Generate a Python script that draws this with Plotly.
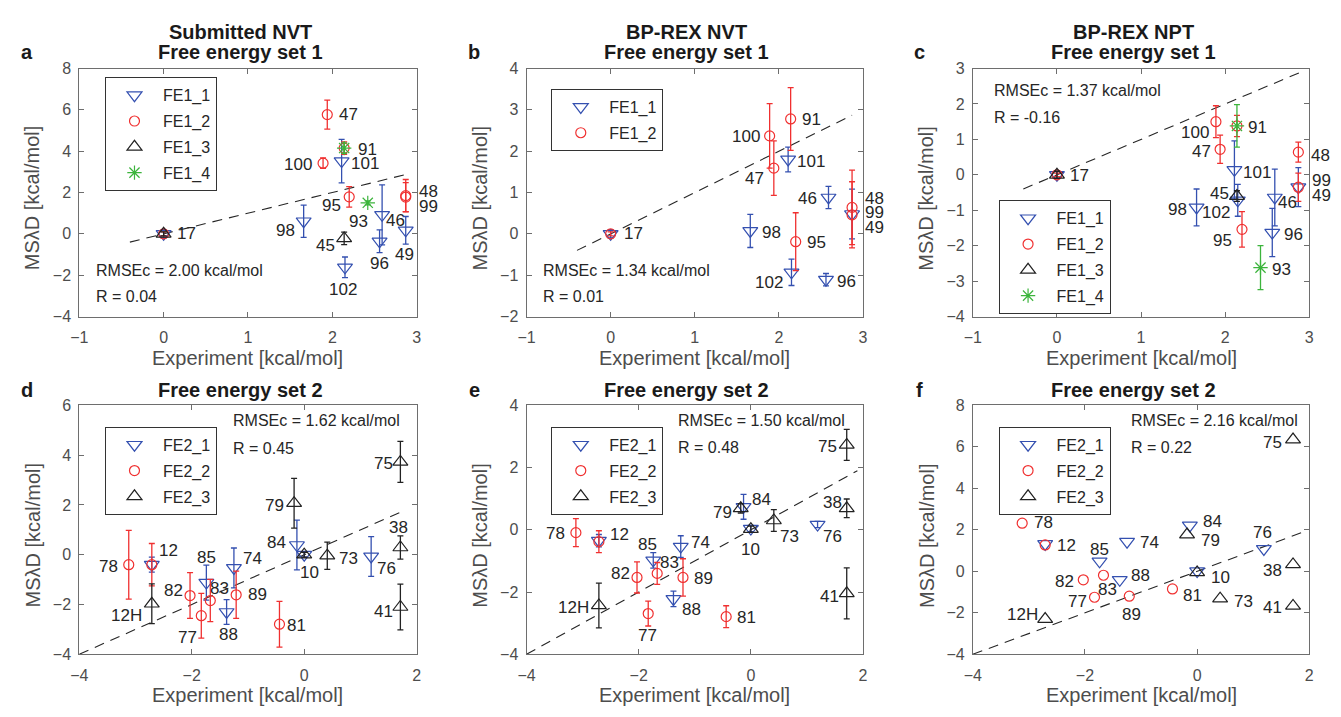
import plotly.graph_objects as go

W, H = 1341, 717

# ---------------- data ----------------
# experimental values (x) per compound
exp_set1 = {"17": 0.0, "98": 1.66, "100": 1.89, "47": 1.94, "101": 2.11, "102": 2.15,
            "45": 2.14, "91": 2.14, "95": 2.20, "93": 2.42, "96": 2.56, "46": 2.59,
            "48": 2.87, "99": 2.87, "49": 2.87}
exp_set2 = {"78": -3.12, "12": -2.71, "12H": -2.71, "82": -2.03, "77": -1.83, "85": -1.74,
            "83": -1.67, "88": -1.38, "74": -1.25, "89": -1.21, "81": -0.44, "79": -0.18,
            "84": -0.13, "10": 0.0, "73": 0.41, "76": 1.19, "75": 1.71, "38": 1.71, "41": 1.71}

# Panel a: Submitted NVT, set 1
a_fe1_1_ids = ["17", "98", "101", "102", "46", "96", "49"]
a_fe1_1_y = [0.0, 0.61, 3.52, -1.62, 0.92, -0.36, 0.17]
a_fe1_1_err = [0.2, 0.78, 1.05, 0.5, 1.45, 0.55, 0.67]
a_fe1_2_ids = ["17", "47", "100", "91", "95", "48", "99"]
a_fe1_2_y = [0.0, 5.77, 3.42, 4.15, 1.79, 1.85, 1.78]
a_fe1_2_err = [0.1, 0.7, 0.25, 0.3, 0.5, 0.78, 0.7]
a_fe1_3_ids = ["17", "45"]
a_fe1_3_y = [0.0, -0.22]
a_fe1_3_err = [0.1, 0.3]
a_fe1_4_ids = ["91", "93"]
a_fe1_4_y = [4.15, 1.5]
a_fe1_4_err = [0.25, 0.1]

# Panel b: BP-REX NVT, set 1
b_fe1_1_ids = ["17", "98", "101", "102", "46", "96", "49"]
b_fe1_1_y = [0.0, 0.07, 1.8, -0.93, 0.88, -1.11, 0.48]
b_fe1_1_err = [0.1, 0.4, 0.3, 0.32, 0.27, 0.15, 0.6]
b_fe1_2_ids = ["17", "100", "91", "47", "95", "48", "99"]
b_fe1_2_y = [0.0, 2.37, 2.78, 1.59, -0.19, 0.64, 0.46]
b_fe1_2_err = [0.05, 0.78, 0.76, 0.66, 0.7, 0.9, 0.8]

# Panel c: BP-REX NPT, set 1
c_fe1_1_ids = ["17", "98", "101", "102", "46", "96", "49"]
c_fe1_1_y = [0.0, -0.92, 0.14, -0.72, -0.64, -1.63, -0.35]
c_fe1_1_err = [0.1, 0.52, 0.82, 0.45, 0.8, 0.68, 0.55]
c_fe1_2_ids = ["17", "100", "91", "47", "95", "48", "99"]
c_fe1_2_y = [0.0, 1.5, 1.38, 0.72, -1.54, 0.64, -0.35]
c_fe1_2_err = [0.05, 0.45, 0.3, 0.4, 0.5, 0.28, 0.4]
c_fe1_3_ids = ["17", "45"]
c_fe1_3_y = [0.0, -0.6]
c_fe1_3_err = [0.1, 0.15]
c_fe1_4_ids = ["91", "93"]
c_fe1_4_y = [1.38, -2.62]
c_fe1_4_err = [0.6, 0.62]

# Panel d: Submitted NVT, set 2
d_fe2_1_ids = ["12", "85", "74", "88", "84", "10", "76"]
d_fe2_1_y = [-0.4, -1.12, -0.53, -2.3, 0.39, 0.0, -0.07]
d_fe2_1_err = [0.3, 0.7, 0.8, 0.5, 1.0, 0.1, 0.8]
d_fe2_2_ids = ["78", "12", "82", "83", "77", "89", "81"]
d_fe2_2_y = [-0.4, -0.4, -1.64, -1.84, -2.45, -1.61, -2.79]
d_fe2_2_err = [1.38, 0.85, 0.92, 0.85, 0.9, 0.95, 0.92]
d_fe2_3_ids = ["12H", "79", "10", "73", "75", "38", "41"]
d_fe2_3_y = [-1.97, 2.07, 0.0, -0.04, 3.73, 0.29, -2.1]
d_fe2_3_err = [0.8, 1.0, 0.1, 0.55, 0.82, 0.47, 0.92]

# Panel e: BP-REX NVT, set 2
e_fe2_1_ids = ["12", "85", "74", "88", "84", "10", "76"]
e_fe2_1_y = [-0.35, -0.98, -0.54, -2.22, 0.74, 0.04, 0.17]
e_fe2_1_err = [0.2, 0.25, 0.35, 0.25, 0.4, 0.1, 0.1]
e_fe2_2_ids = ["78", "12", "82", "83", "77", "89", "81"]
e_fe2_2_y = [-0.09, -0.38, -1.53, -1.4, -2.69, -1.53, -2.79]
e_fe2_2_err = [0.45, 0.35, 0.5, 0.35, 0.4, 0.6, 0.35]
e_fe2_3_ids = ["12H", "79", "10", "73", "75", "38", "41"]
e_fe2_3_y = [-2.43, 0.69, 0.02, 0.3, 2.73, 0.69, -2.04]
e_fe2_3_err = [0.72, 0.15, 0.1, 0.35, 0.5, 0.3, 0.82]

# Panel f: BP-REX NPT, set 2 (no error bars)
f_fe2_1_ids = ["12", "85", "74", "88", "84", "10", "76"]
f_fe2_1_y = [1.32, 0.48, 1.43, -0.41, 2.21, 0.01, 1.08]
f_fe2_2_ids = ["78", "12", "82", "83", "77", "89", "81"]
f_fe2_2_y = [2.32, 1.27, -0.41, -0.19, -1.25, -1.2, -0.85]
f_fe2_3_ids = ["12H", "79", "10", "73", "75", "38", "41"]
f_fe2_3_y = [-2.3, 1.77, -0.05, -1.32, 6.35, 0.33, -1.67]

rmse_text = ["RMSEc = 2.00 kcal/mol", "RMSEc = 1.34 kcal/mol", "RMSEc = 1.37 kcal/mol",
             "RMSEc = 1.62 kcal/mol", "RMSEc = 1.50 kcal/mol", "RMSEc = 2.16 kcal/mol"]
r_text = ["R = 0.04", "R = 0.01", "R = -0.16", "R = 0.45", "R = 0.48", "R = 0.22"]
panel_letters = ["a", "b", "c", "d", "e", "f"]
titles = ["Submitted NVT<br>Free energy set 1", "BP-REX NVT<br>Free energy set 1",
          "BP-REX NPT<br>Free energy set 1", "Free energy set 2", "Free energy set 2",
          "Free energy set 2"]
x_ranges = [[-1, 3], [-1, 3], [-1, 3], [-4, 2], [-4, 2], [-4, 2]]
y_ranges = [[-4, 8], [-2, 4], [-4, 3], [-4, 6], [-4, 4], [-4, 8]]
x_dticks = [1, 1, 1, 2, 2, 2]
y_dticks = [2, 1, 1, 2, 2, 2]
diag_ranges = [[-0.4, 2.87], [-0.4, 2.87], [-0.4, 2.9], [-4, 1.8], [-4, 1.9], [-4, 1.95]]

# ---------------- styles / layout ----------------
STY = {
    "FE1_1": dict(symbol="triangle-down-open", color="#3450b0", size=13),
    "FE1_2": dict(symbol="circle-open", color="#f03030", size=10),
    "FE1_3": dict(symbol="triangle-up-open", color="#222222", size=13),
    "FE1_4": dict(symbol="asterisk-open", color="#3cb43c", size=12),
}
STY["FE2_1"] = STY["FE1_1"]
STY["FE2_2"] = STY["FE1_2"]
STY["FE2_3"] = STY["FE1_3"]

cols_px = [(71, 412), (523, 863), (974, 1314)]
rows_px = [(62, 316), (407, 662)]

panels = [
    dict(exp=exp_set1, series=[("FE1_1", a_fe1_1_ids, a_fe1_1_y, a_fe1_1_err),
                               ("FE1_2", a_fe1_2_ids, a_fe1_2_y, a_fe1_2_err),
                               ("FE1_3", a_fe1_3_ids, a_fe1_3_y, a_fe1_3_err),
                               ("FE1_4", a_fe1_4_ids, a_fe1_4_y, a_fe1_4_err)]),
    dict(exp=exp_set1, series=[("FE1_1", b_fe1_1_ids, b_fe1_1_y, b_fe1_1_err),
                               ("FE1_2", b_fe1_2_ids, b_fe1_2_y, b_fe1_2_err)]),
    dict(exp=exp_set1, series=[("FE1_1", c_fe1_1_ids, c_fe1_1_y, c_fe1_1_err),
                               ("FE1_2", c_fe1_2_ids, c_fe1_2_y, c_fe1_2_err),
                               ("FE1_3", c_fe1_3_ids, c_fe1_3_y, c_fe1_3_err),
                               ("FE1_4", c_fe1_4_ids, c_fe1_4_y, c_fe1_4_err)]),
    dict(exp=exp_set2, series=[("FE2_1", d_fe2_1_ids, d_fe2_1_y, d_fe2_1_err),
                               ("FE2_2", d_fe2_2_ids, d_fe2_2_y, d_fe2_2_err),
                               ("FE2_3", d_fe2_3_ids, d_fe2_3_y, d_fe2_3_err)]),
    dict(exp=exp_set2, series=[("FE2_1", e_fe2_1_ids, e_fe2_1_y, e_fe2_1_err),
                               ("FE2_2", e_fe2_2_ids, e_fe2_2_y, e_fe2_2_err),
                               ("FE2_3", e_fe2_3_ids, e_fe2_3_y, e_fe2_3_err)]),
    dict(exp=exp_set2, series=[("FE2_1", f_fe2_1_ids, f_fe2_1_y, None),
                               ("FE2_2", f_fe2_2_ids, f_fe2_2_y, None),
                               ("FE2_3", f_fe2_3_ids, f_fe2_3_y, None)]),
]

# label placement: (text, series used as anchor, dx px, dy px downward)
label_place = [
    [("17", "FE1_2", 23, 0), ("98", "FE1_1", -18, 9), ("100", "FE1_2", -25, 1),
     ("47", "FE1_2", 21, 0), ("91", "FE1_2", 23, 1), ("101", "FE1_1", 23, 2),
     ("95", "FE1_2", -18, 9), ("93", "FE1_4", -9, 19), ("46", "FE1_1", 13, 6),
     ("48", "FE1_2", 23, -4), ("99", "FE1_2", 23, 9), ("45", "FE1_3", -19, 7),
     ("96", "FE1_1", 0, 22), ("49", "FE1_1", -1, 24), ("102", "FE1_1", -2, 22)],
    [("17", "FE1_2", 23, 0), ("91", "FE1_2", 21, 1), ("100", "FE1_2", -24, 1),
     ("101", "FE1_1", 23, 2), ("47", "FE1_2", -19, 10), ("46", "FE1_1", -21, 1),
     ("48", "FE1_2", 22, -9), ("99", "FE1_2", 22, -2), ("49", "FE1_1", 22, 13),
     ("98", "FE1_1", 21, 2), ("95", "FE1_2", 21, 1), ("102", "FE1_1", -22, 10),
     ("96", "FE1_1", 21, 2)],
    [("17", "FE1_3", 23, 1), ("100", "FE1_2", -21, 11), ("91", "FE1_4", 21, 2),
     ("47", "FE1_2", -19, 2), ("48", "FE1_2", 22, 3), ("101", "FE1_1", 23, 3),
     ("99", "FE1_2", 23, -7), ("49", "FE1_1", 23, 8), ("45", "FE1_3", -17, -3),
     ("46", "FE1_1", 13, 5), ("98", "FE1_1", -19, 2), ("102", "FE1_1", -22, 12),
     ("95", "FE1_2", -19, 11), ("96", "FE1_1", 21, 2), ("93", "FE1_4", 21, 2)],
    [("12", "FE2_2", 17, -14), ("78", "FE2_2", -20, 2), ("85", "FE2_1", 0, -25),
     ("74", "FE2_1", 19, -9), ("82", "FE2_2", -17, -5), ("83", "FE2_2", 9, -12),
     ("89", "FE2_2", 21, 0), ("77", "FE2_2", -14, 22), ("88", "FE2_1", 2, 23),
     ("81", "FE2_2", 17, 1), ("12H", "FE2_3", -25, 12), ("79", "FE2_3", -20, 2),
     ("84", "FE2_1", -20, -3), ("10", "FE2_3", 5, 18), ("73", "FE2_3", 21, 3),
     ("76", "FE2_1", 15, 12), ("75", "FE2_3", -17, 2), ("38", "FE2_3", -2, -20),
     ("41", "FE2_3", -17, 4)],
    [("78", "FE2_2", -20, 1), ("12", "FE2_1", 21, -6), ("85", "FE2_1", -6, -16),
     ("74", "FE2_1", 20, -4), ("83", "FE2_2", 12, -11), ("82", "FE2_2", -17, -4),
     ("89", "FE2_2", 21, 1), ("88", "FE2_1", 18, 11), ("77", "FE2_2", -1, 22),
     ("81", "FE2_2", 20, 1), ("12H", "FE2_3", -25, 2), ("79", "FE2_3", -18, 4),
     ("84", "FE2_1", 18, -7), ("10", "FE2_3", 0, 20), ("73", "FE2_3", 16, 16),
     ("76", "FE2_1", 15, 12), ("75", "FE2_3", -19, 2), ("38", "FE2_3", -14, -6),
     ("41", "FE2_3", -17, 3)],
    [("78", "FE2_2", 21, -1), ("12", "FE2_1", 21, 2), ("85", "FE2_1", 0, -12),
     ("74", "FE2_1", 22, 1), ("88", "FE2_1", 21, -4), ("82", "FE2_2", -19, 2),
     ("83", "FE2_2", 4, 14), ("77", "FE2_2", -17, 4), ("89", "FE2_2", 2, 18),
     ("81", "FE2_2", 20, 7), ("84", "FE2_1", 23, -4), ("79", "FE2_3", 23, 6),
     ("10", "FE2_3", 23, 5), ("73", "FE2_3", 23, 3), ("76", "FE2_1", -1, -16),
     ("75", "FE2_3", -21, 3), ("38", "FE2_3", -21, 6), ("41", "FE2_3", -21, 2),
     ("12H", "FE2_3", -23, -5)],
]

# legend box top-left (px)
legend_pos = [(97, 71), (548, 83), (1000, 197), (97, 429), (548, 429), (1000, 429)]
# RMSE text left and row centres (px)
stat_pos = [(86, 269, 296), (538, 269, 295), (993, 85, 112),
            (224, 423, 451), (674, 423, 450), (1132, 423, 450)]

FONT = "Liberation Sans, Arial, Helvetica, sans-serif"
TXT = "#262626"
AX = "#6e6e6e"


def px(xp):
    return xp / W


def py(yp):
    return 1 - yp / H


fig = go.Figure()
layout = dict(width=W, height=H, margin=dict(l=0, r=0, t=0, b=0),
              paper_bgcolor="white", plot_bgcolor="white",
              font=dict(family=FONT, color=TXT), showlegend=True)
annotations = []

for i, p in enumerate(panels):
    r, c = divmod(i, 3)
    x0, x1 = cols_px[c]
    y0, y1 = rows_px[r]
    sfx = "" if i == 0 else str(i + 1)
    xa, ya = "x" + sfx, "y" + sfx
    leg = "legend" + sfx
    axcommon = dict(showgrid=False, zeroline=False, showline=True, linecolor=AX, linewidth=1,
                    mirror="allticks", ticks="inside", ticklen=5, tickcolor=AX, tickwidth=1,
                    tickfont=dict(family=FONT, size=16, color="#4d4d4d"))
    layout["xaxis" + sfx] = dict(domain=[px(x0), px(x1)], range=x_ranges[i], dtick=x_dticks[i],
                                 tick0=0, anchor=ya, ticklabelstandoff=6, **axcommon)
    layout["yaxis" + sfx] = dict(domain=[py(y1), py(y0)], range=y_ranges[i], dtick=y_dticks[i],
                                 tick0=0, anchor=xa, ticklabelstandoff=4, **axcommon)

    # identity (dashed) line
    d = diag_ranges[i]
    fig.add_trace(go.Scatter(x=d, y=d, mode="lines", xaxis=xa, yaxis=ya, showlegend=False,
                             line=dict(color="#262626", width=1.1, dash="10px,7px"),
                             hoverinfo="skip"))

    lookup = {}
    for name, ids, ys, errs in p["series"]:
        st = STY[name]
        xs = [p["exp"][k] for k in ids]
        for k, yv in zip(ids, ys):
            lookup[(name, k)] = (p["exp"][k], yv)
        ey = None
        if errs is not None:
            ey = dict(type="data", array=errs, visible=True, color=st["color"],
                      thickness=1.3, width=3)
        fig.add_trace(go.Scatter(
            x=xs, y=ys, mode="markers", name=name, xaxis=xa, yaxis=ya, legend=leg,
            legendgroup=f"{i}_{name}", error_y=ey,
            marker=dict(symbol=st["symbol"], size=st["size"], color=st["color"],
                        line=dict(color=st["color"], width=1.2))))

    for text, sname, dx, dy in label_place[i]:
        xv, yv = lookup[(sname, text)]
        annotations.append(dict(x=xv, y=yv, xref=xa, yref=ya, text=text, showarrow=False,
                                xanchor="center", yanchor="middle", xshift=dx, yshift=-dy,
                                font=dict(family=FONT, size=17, color=TXT)))

    # legend
    lx, ly = legend_pos[i]
    layout[leg] = dict(x=px(lx), y=py(ly), xanchor="left", yanchor="top",
                       bordercolor="#333333", borderwidth=1, bgcolor="white",
                       font=dict(family=FONT, size=16, color=TXT), itemwidth=47,
                       tracegroupgap=2, traceorder="grouped")

    # stats
    sx, sy1, sy2 = stat_pos[i]
    for txt, yy in ((rmse_text[i], sy1), (r_text[i], sy2)):
        annotations.append(dict(x=px(sx), y=py(yy), xref="paper", yref="paper", text=txt,
                                showarrow=False, xanchor="left", yanchor="middle",
                                font=dict(family=FONT, size=16, color=TXT)))

    # title
    cx = (x0 + x1) / 2 - 8
    if r == 0:
        tys = [25, 45]
        tl = titles[i].split("<br>")
    else:
        tys = [391]
        tl = [titles[i]]
    for t, ty in zip(tl, tys):
        annotations.append(dict(x=px(cx), y=py(ty), xref="paper", yref="paper",
                                text="<b>" + t + "</b>", showarrow=False, xanchor="center",
                                yanchor="middle", font=dict(family=FONT, size=20, color="#1a1a1a")))
    # panel letter
    lxp = x0 - 53 if c < 2 else x0 - 54
    annotations.append(dict(x=px(lxp), y=py(45 if r == 0 else 391), xref="paper", yref="paper",
                            text="<b>" + panel_letters[i] + "</b>", showarrow=False,
                            xanchor="center", yanchor="middle",
                            font=dict(family=FONT, size=20, color="#1a1a1a")))
    # axis titles
    annotations.append(dict(x=px((x0 + x1) / 2), y=py(y1 + 42), xref="paper", yref="paper",
                            text="Experiment [kcal/mol]", showarrow=False, xanchor="center",
                            yanchor="middle", font=dict(family=FONT, size=20, color="#4d4d4d")))
    annotations.append(dict(x=px(x0 - 47), y=py((y0 + y1) / 2 + 6), xref="paper", yref="paper",
                            text="MS\u03bbD [kcal/mol]", showarrow=False, textangle=-90,
                            xanchor="center", yanchor="middle",
                            font=dict(family=FONT, size=20, color="#4d4d4d")))

layout["annotations"] = annotations
fig.update_layout(**layout)
fig.write_html("out.html")
